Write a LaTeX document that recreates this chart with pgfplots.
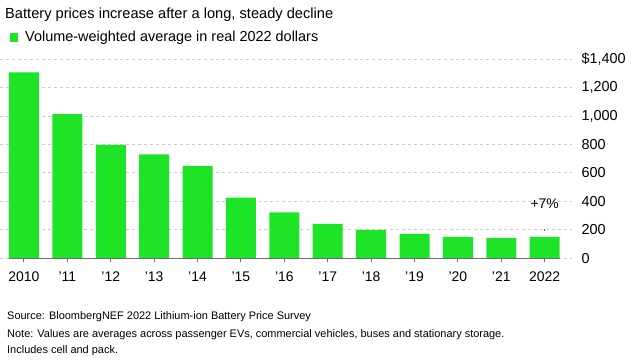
\documentclass[border=0pt]{standalone}
\usepackage{fontspec}
\setmainfont{Liberation Sans}
\usepackage{pgfplots}
\pgfplotsset{compat=1.18}
\definecolor{bargreen}{RGB}{30,228,40}
\definecolor{gridgray}{RGB}{205,205,205}
\definecolor{basegray}{RGB}{110,110,110}
\begin{document}
\begin{tikzpicture}
\useasboundingbox (0bp,0bp) rectangle (639bp,362bp);
\begin{axis}[
  scale only axis,
  width=572bp, height=199.3bp,
  at={(0bp,103.7bp)}, anchor=south west,
  xmin=-0.553, xmax=12.63,
  ymin=0, ymax=1400,
  axis line style={draw=none},
  ybar, bar width=30bp, bar shift=0pt,
  xtick={0,...,12},
  xticklabels={2010,'11,'12,'13,'14,'15,'16,'17,'18,'19,'20,'21,2022},
  xtick pos=bottom,
  xtick style={draw=basegray, line width=1bp},
  tick align=outside,
  major tick length=4bp,
  xticklabel style={font=\fontsize{14}{16}\selectfont, text=black, yshift=-6bp},
  ytick={0,200,...,1400},
  yticklabels={0,200,400,600,800,{1,000},{1,200},{\$1,400}},
  yticklabel pos=right,
  ytick style={draw=none},
  yticklabel style={anchor=west, font=\fontsize{14.5}{16}\selectfont, text=black, xshift=2bp},
  ymajorgrids,
  grid style={gridgray, dash pattern=on 3bp off 3bp, line width=0.8bp},
  clip=false,
]
\addplot[fill=bargreen, draw=none] coordinates {
(0,1306) (1,1013) (2,796) (3,730) (4,648) (5,426) (6,323)
(7,241) (8,199) (9,171) (10,150) (11,141) (12,151)};
\draw[basegray, line width=1.2bp] (axis cs:-0.346,0) -- (axis cs:12.35,0);
\draw[basegray, line width=0.8bp] (axis cs:12,190) -- (axis cs:12,205);
\node[font=\fontsize{14}{16}\selectfont] at (axis cs:12,381) {+7\%};
\end{axis}
\node[anchor=base west, font=\fontsize{14.7}{18}\selectfont, inner sep=0pt] at (5bp,343bp) {Battery prices increase after a long, steady decline};
\fill[bargreen] (10bp,320bp) rectangle (18bp,329bp);
\node[anchor=base west, font=\fontsize{14.5}{16}\selectfont, inner sep=0pt] at (25bp,320bp) {Volume-weighted average in real 2022 dollars};
\node[anchor=base west, font=\fontsize{11}{13}\selectfont, inner sep=0pt] at (7bp,42bp) {Source: BloombergNEF 2022 Lithium-ion Battery Price Survey};
\node[anchor=base west, font=\fontsize{11}{13}\selectfont, inner sep=0pt] at (7bp,25bp) {Note: Values are averages across passenger EVs, commercial vehicles, buses and stationary storage.};
\node[anchor=base west, font=\fontsize{11}{13}\selectfont, inner sep=0pt] at (7bp,9bp) {Includes cell and pack.};
\end{tikzpicture}
\end{document}
